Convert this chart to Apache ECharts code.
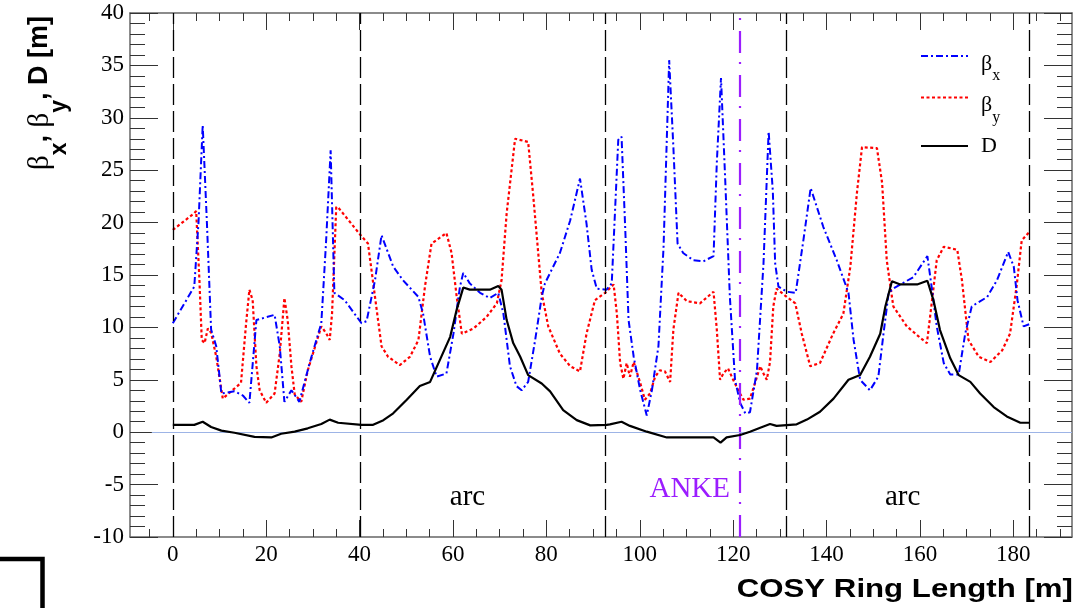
<!DOCTYPE html>
<html><head><meta charset="utf-8">
<script src="https://cdn.jsdelivr.net/npm/echarts@6/dist/echarts.min.js"></script>
<style>html,body{margin:0;padding:0;background:#fff}#c{width:1092px;height:608px}</style>
</head><body><div id="c"></div>
<script>
// ---- axis ranges & ticks ----
const XMIN = -9.17, XMAX = 192.57;
const YMIN = -10, YMAX = 40;
const xMajorTicks = [0, 20, 40, 60, 80, 100, 120, 140, 160, 180];
const xMinorTicks = [-5, 0, 5, 10, 15, 20, 25, 30, 35, 40, 45, 50, 55, 60, 65, 70, 75, 80, 85, 90, 95,
  100, 105, 110, 115, 120, 125, 130, 135, 140, 145, 150, 155, 160, 165, 170, 175, 180, 185, 190];
const yTicks = [-10, -5, 0, 5, 10, 15, 20, 25, 30, 35, 40];

// ---- beta_x ----
const bxS = [0, 4.6, 5.5, 6.4, 7.3, 8.2, 9.3, 10.4, 13.2, 15.0, 16.4, 17.9, 21.8, 22.9, 23.9, 25.4, 27.1, 29.3, 31.8, 32.8,
  33.8, 34.6, 36.8, 40.4, 41.5, 43.3, 44.7, 47.2, 49.3, 52.6, 53.6, 55.1, 56.5, 58.6, 60.1, 61.5, 62.2, 63.6, 65.8, 67.9,
  69.7, 70.8, 72.2, 73.6, 74.7, 76.1, 77.6, 79.0, 79.7, 82.9, 85.1, 87.2, 88.6, 89.7, 90.8, 92.9, 94.0, 95.4, 96.1, 96.9,
  97.6, 98.7, 100.1, 101.5, 102.6, 104.0, 105.1, 106.3, 107.2, 108.1, 109.3, 111.5, 113.6, 115.8, 116.5, 117.4, 118.3, 119.3, 120.4, 121.5,
  122.6, 123.6, 125.1, 126.5, 127.6, 128.5, 129.0, 129.7, 131.5, 133.4, 135.1, 136.6, 139.3, 142.2, 144.7, 145.8, 147.2, 149.3, 151.1, 152.2,
  153.3, 154.3, 158.6, 161.6, 162.5, 163.6, 165.1, 166.5, 168.3, 169.7, 171.1, 174.4, 176.5, 178.9, 180.1, 180.9, 182.2, 183.4];
const bxV = [10.4, 13.9, 20.0, 29.3, 20.0, 9.8, 8.2, 3.7, 3.9, 3.5, 2.8, 10.7, 11.2, 8.2, 2.9, 4.0, 2.9, 6.6, 10.4, 18.0,
  26.9, 13.3, 12.6, 10.4, 10.6, 14.5, 18.8, 15.8, 14.5, 12.9, 11.3, 7.2, 5.3, 5.6, 9.4, 13.9, 15.2, 14.2, 13.3, 12.8,
  13.3, 11.3, 6.3, 4.4, 4.0, 4.8, 8.8, 12.9, 14.2, 17.1, 20.2, 24.2, 19.9, 15.5, 13.7, 13.6, 14.2, 27.9, 28.2, 19.3,
  10.7, 7.2, 4.0, 1.6, 4.0, 8.2, 17.7, 35.5, 27.2, 18.0, 17.1, 16.4, 16.3, 16.8, 25.7, 33.8, 24.1, 12.9, 5.0, 2.8,
  1.8, 1.9, 5.9, 16.1, 28.7, 23.0, 16.1, 13.9, 13.4, 13.3, 18.5, 23.3, 19.6, 16.4, 13.3, 8.8, 5.0, 4.0, 5.3, 9.4,
  13.3, 13.7, 14.8, 16.8, 13.9, 10.1, 6.6, 5.5, 5.5, 9.4, 12.0, 12.9, 14.5, 17.2, 15.8, 12.6, 10.1, 10.3];

// ---- beta_y ----
const byS = [0, 4.6, 5.0, 5.7, 6.2, 6.8, 7.5, 8.2, 9.3, 10.7, 12.5, 14.6, 15.7, 16.4, 17.1, 17.9, 18.6, 20.0, 21.8, 22.9,
  23.9, 24.6, 25.4, 26.1, 27.5, 28.9, 31.8, 32.9, 33.6, 34.1, 35.0, 35.5, 40.4, 41.8, 43.3, 44.7, 46.1, 48.6, 50.8, 52.6,
  54.0, 55.4, 58.6, 59.7, 60.8, 61.9, 64.4, 67.2, 69.4, 70.4, 71.5, 73.3, 76.1, 77.2, 79.0, 80.4, 82.9, 85.1, 87.2, 88.6,
  90.4, 92.6, 94.4, 95.1, 95.8, 96.5, 97.2, 97.9, 98.7, 100.1, 101.1, 102.2, 103.3, 104.3, 105.4, 106.5, 107.2, 108.3, 110.1, 112.9,
  115.8, 116.5, 117.2, 117.9, 118.9, 120.0, 121.1, 122.2, 123.6, 124.7, 125.8, 126.5, 127.2, 127.9, 128.6, 129.3, 131.5, 133.3, 134.7, 136.5,
  138.6, 141.4, 143.6, 145.1, 146.5, 147.6, 150.8, 151.9, 152.9, 154.3, 157.2, 160.1, 161.5, 162.6, 163.6, 165.1, 168.0, 169.0, 170.4, 172.6,
  175.1, 177.6, 179.3, 180.7, 181.8, 183.4];
const byV = [19.3, 20.9, 21.1, 14.5, 8.8, 8.5, 9.9, 9.5, 7.2, 3.2, 3.9, 4.7, 10.4, 13.6, 12.6, 6.3, 4.0, 2.8, 3.7, 7.5,
  12.8, 10.7, 6.3, 3.6, 2.9, 5.9, 10.1, 9.4, 8.8, 11.3, 21.5, 21.4, 18.7, 18.0, 12.9, 8.2, 7.2, 6.4, 7.2, 8.8,
  13.9, 18.0, 19.0, 17.1, 12.9, 9.4, 9.9, 11.0, 12.3, 14.5, 20.9, 28.0, 27.7, 22.5, 13.3, 10.1, 7.5, 6.3, 5.8, 9.4,
  12.6, 13.3, 14.1, 11.3, 6.6, 5.1, 6.6, 5.3, 6.7, 4.7, 3.1, 3.7, 5.3, 5.9, 5.8, 4.8, 9.8, 13.3, 12.5, 12.3,
  13.4, 9.8, 5.0, 5.6, 6.1, 5.0, 4.0, 3.1, 3.2, 4.7, 6.3, 5.6, 5.0, 6.7, 12.0, 13.7, 12.9, 12.3, 9.4, 6.3,
  6.6, 9.4, 11.3, 15.8, 22.8, 27.2, 27.1, 23.8, 16.4, 12.0, 10.1, 9.0, 8.5, 12.6, 16.4, 17.7, 17.4, 14.5, 8.8, 7.2,
  6.7, 7.8, 9.4, 13.9, 18.3, 19.1];

// ---- dispersion D ----
const dS = [0, 4.6, 6.4, 8.2, 10.4, 13.2, 17.5, 21.1, 23.2, 26.1, 28.9, 31.8, 33.6, 35.4, 40.4, 42.9, 45.1, 47.2, 50.1, 52.9,
  55.1, 57.2, 59.4, 60.8, 62.2, 63.6, 67.9, 69.7, 70.4, 71.5, 72.9, 74.4, 76.1, 79.0, 80.8, 83.6, 86.5, 89.4, 92.9, 93.6,
  96.1, 97.9, 101.5, 105.8, 110.8, 115.8, 117.3, 118.6, 121.5, 123.6, 125.8, 127.9, 129.3, 133.6, 135.8, 138.6, 141.5, 144.7, 147.2, 149.3,
  151.5, 152.6, 154.0, 155.8, 159.4, 161.6, 162.9, 164.3, 166.5, 168.3, 170.8, 172.9, 175.8, 178.6, 181.5, 183.4];
const dV = [0.7, 0.7, 1.0, 0.5, 0.15, -0.05, -0.45, -0.5, -0.15, 0.05, 0.37, 0.78, 1.2, 0.9, 0.7, 0.7, 1.15, 1.8, 3.1, 4.4,
  4.8, 6.9, 9.1, 11.7, 13.8, 13.6, 13.6, 13.95, 13.6, 10.7, 8.5, 7.2, 5.45, 4.65, 3.9, 2.1, 1.15, 0.65, 0.7, 0.75,
  1.0, 0.6, 0.05, -0.5, -0.5, -0.5, -1.0, -0.5, -0.27, 0.05, 0.43, 0.78, 0.6, 0.75, 1.2, 1.95, 3.2, 5.0, 5.45, 7.2,
  9.4, 12.0, 14.4, 14.1, 14.1, 14.45, 12.6, 9.75, 7.05, 5.45, 4.8, 3.7, 2.4, 1.5, 0.9, 0.9];

// ---- reference lines & annotations ----
const sectionX = [0, 40.2, 92.6, 131.3, 183.4];
const ankeX = 121.4;
const zeroLineFrom = -4.5;
const annoText = ['arc', 'ANKE', 'arc'];
const annoX = [63.1, 110.7, 156.3];
const annoY = [-6.2, -5.5, -6.2];

const PURPLE = '#9b1dff';
const zip = (a, b) => a.map((v, i) => [v, b[i]]);

const tickStyle = { color: '#333', width: 1 };
const frameStyle = { color: '#666', width: 1.5 };
function xAx(pos, ticks, len, showLine, showLabel) {
  return {
    type: 'value', position: pos, min: XMIN, max: XMAX,
    axisLine: { show: showLine, onZero: false, lineStyle: frameStyle },
    axisTick: { show: true, inside: true, length: len, customValues: ticks, lineStyle: tickStyle },
    axisLabel: showLabel ? { show: true, customValues: ticks, margin: 6, fontFamily: 'Liberation Serif', fontSize: 23, color: '#000' } : { show: false },
    splitLine: { show: false }
  };
}
function yAx(pos, showLabel) {
  return {
    type: 'value', position: pos, min: YMIN, max: YMAX, interval: 5,
    axisLine: { show: true, onZero: false, lineStyle: frameStyle },
    axisTick: { show: true, inside: true, length: 28, lineStyle: tickStyle },
    minorTick: { show: true, splitNumber: 5, length: 15, lineStyle: tickStyle },
    axisLabel: showLabel ? { show: true, customValues: yTicks, margin: 6, fontFamily: 'Liberation Serif', fontSize: 23, color: '#000' } : { show: false },
    splitLine: { show: false }, minorSplitLine: { show: false }
  };
}

const chart = echarts.init(document.getElementById('c'), null, { renderer: 'canvas' });
chart.setOption({
  animation: false,
  backgroundColor: '#fff',
  grid: { left: 130, right: 20, top: 13, bottom: 71 },
  xAxis: [
    xAx('bottom', xMajorTicks, 17, true, true),
    xAx('bottom', xMinorTicks, 8, false, false),
    xAx('top', xMajorTicks, 17, true, false),
    xAx('top', xMinorTicks, 8, false, false)
  ],
  yAxis: [yAx('left', true), yAx('right', false)],
  legend: {
    orient: 'vertical', left: 920, top: 44, padding: 0, itemGap: 1.5,
    itemWidth: 47, itemHeight: 14, selectedMode: false,
    itemStyle: { opacity: 0 },
    data: ['βx', 'βy', 'D'],
    formatter: function (name) {
      return name === 'D' ? '{d|D}' : '{b|β}{s|' + name.slice(1) + '}';
    },
    textStyle: {
      color: '#000',
      rich: {
        b: { fontFamily: 'Liberation Serif', fontSize: 22, lineHeight: 24, verticalAlign: 'top', padding: [9, 0, 0, 8], color: '#000' },
        s: { fontFamily: 'Liberation Serif', fontSize: 16, lineHeight: 16, verticalAlign: 'top', padding: [24, 0, 0, 0], color: '#000' },
        d: { fontFamily: 'Liberation Serif', fontSize: 22, lineHeight: 24, padding: [8, 0, 8, 8], color: '#000' }
      }
    }
  },
  series: [
    {
      name: 'βx', type: 'line', data: zip(bxS, bxV), symbol: 'none', z: 4,
      lineStyle: { color: '#0000ff', width: 2, type: [7, 3, 2, 3] }, itemStyle: { color: '#0000ff' }
    },
    {
      name: 'βy', type: 'line', data: zip(byS, byV), symbol: 'none', z: 3,
      lineStyle: { color: '#ff0000', width: 2.2, type: [3, 2.5] }, itemStyle: { color: '#ff0000' }
    },
    {
      name: 'D', type: 'line', data: zip(dS, dV), symbol: 'none', z: 5,
      lineStyle: { color: '#000', width: 2.2 }, itemStyle: { color: '#000' },
      markLine: {
        silent: true, symbol: ['none', 'none'], label: { show: false }, animation: false,
        data: sectionX.map(x => ({ xAxis: x, lineStyle: { type: [21, 6], color: '#000', width: 1.3 } }))
          .concat([
            { xAxis: ankeX, lineStyle: { color: PURPLE, width: 2.2, type: [22, 11, 2, 9] } },
            [{ coord: [zeroLineFrom, 0], lineStyle: { color: '#9db4e6', width: 1.2, type: 'solid' } },
             { coord: [XMAX, 0], lineStyle: { color: '#9db4e6', width: 1.2, type: 'solid' } }]
          ])
      },
      markPoint: {
        silent: true, symbol: 'circle', symbolSize: 1, itemStyle: { color: 'rgba(0,0,0,0)' },
        label: { show: true, position: 'inside', formatter: '{b}', fontFamily: 'Liberation Serif', fontSize: 29 },
        data: annoText.map((t, i) => ({ name: t, coord: [annoX[i], annoY[i]], label: { color: t === 'ANKE' ? PURPLE : '#000' } }))
      }
    }
  ],
  graphic: [
    {
      type: 'text', x: 1073, y: 590, scaleX: 1.3, scaleY: 1.05,
      style: { text: 'COSY Ring Length [m]', align: 'right', verticalAlign: 'middle', fontFamily: 'Liberation Sans', fontWeight: 'bold', fontSize: 24, fill: '#000' }
    },
    {
      type: 'text', x: 41, y: 93, rotation: Math.PI / 2,
      style: {
        text: '{b|β}{s|x}{m|, }{b|β}{s|y}{m|, D [m]}', align: 'center', verticalAlign: 'middle',
        rich: {
          b: { fontFamily: 'Liberation Serif', fontSize: 29, lineHeight: 30, verticalAlign: 'top', fill: '#000' },
          m: { fontFamily: 'Liberation Sans', fontWeight: 'bold', fontSize: 27, lineHeight: 30, verticalAlign: 'top', fill: '#000' },
          s: { fontFamily: 'Liberation Sans', fontWeight: 'bold', fontSize: 23, lineHeight: 26, verticalAlign: 'top', padding: [22, 0, 0, 0], fill: '#000' }
        }
      }
    },
    {
      type: 'polyline', silent: true,
      shape: { points: [[0, 559], [42.5, 559], [42.5, 608]] },
      style: { stroke: '#000', lineWidth: 4.5, fill: null }
    }
  ]
});
</script>
</body></html>
